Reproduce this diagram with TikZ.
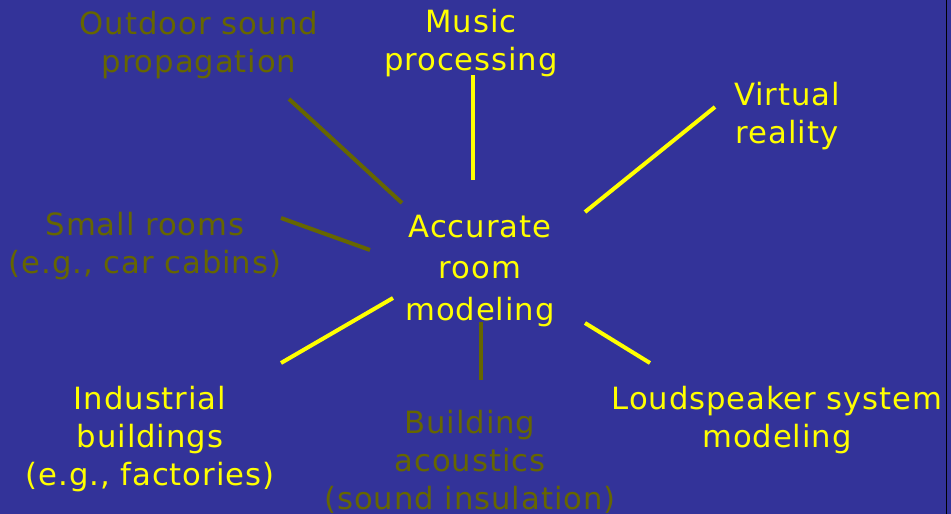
\documentclass[tikz,border=0pt]{standalone}
\usepackage{fontspec}
\setmainfont{DejaVu Sans}[LetterSpace=3]
\definecolor{bgblue}{HTML}{333399}
\definecolor{dimol}{HTML}{666600}
\definecolor{brightyel}{HTML}{FFFF00}
\begin{document}
\begin{tikzpicture}[x=0.75pt,y=-0.75pt,
  lbl/.style={align=center,inner sep=0pt,font=\fontsize{23pt}{28.5pt}\selectfont},
  hot/.style={lbl,text=brightyel},
  dim/.style={lbl,text=dimol},
  hotline/.style={draw=brightyel,line width=3pt},
  dimline/.style={draw=dimol,line width=3pt}]
\fill[bgblue] (0,0) rectangle (951,514);
\useasboundingbox (0,0) rectangle (951,514);
\draw[black,line width=1.2pt] (946.5,0) -- (946.5,514);

\node[hot,font=\fontsize{23pt}{31pt}\selectfont] (center) at (480,271) {Accurate\\room\\modeling};
\node[dim] (outdoor) at (199,45) {Outdoor sound\\propagation};
\node[hot] (music) at (471,43) {Music\\processing};
\node[hot] (vr) at (787,116) {Virtual\\reality};
\node[dim] (small) at (145,246) {Small rooms\\(e.g., car cabins)};
\node[hot] (indus) at (150,439) {Industrial\\buildings\\(e.g., factories)};
\node[dim] (build) at (470,462) {Building\\acoustics\\(sound insulation)};
\node[hot] (loud) at (777,420) {Loudspeaker system\\modeling};

\coordinate (o1) at (289,99);  \coordinate (o2) at (402,203);
\coordinate (m1) at (473,75);  \coordinate (m2) at (473,180);
\coordinate (v1) at (715,107); \coordinate (v2) at (585,212);
\coordinate (s1) at (281,218); \coordinate (s2) at (370,250);
\coordinate (i1) at (393,298); \coordinate (i2) at (281,363);
\coordinate (b1) at (481,322); \coordinate (b2) at (481,380);
\coordinate (l1) at (585,323); \coordinate (l2) at (650,363);

\draw[dimline] (o1) -- (o2);
\draw[hotline] (m1) -- (m2);
\draw[hotline] (v1) -- (v2);
\draw[dimline] (s1) -- (s2);
\draw[hotline] (i1) -- (i2);
\draw[dimline] (b1) -- (b2);
\draw[hotline] (l1) -- (l2);
\end{tikzpicture}
\end{document}
